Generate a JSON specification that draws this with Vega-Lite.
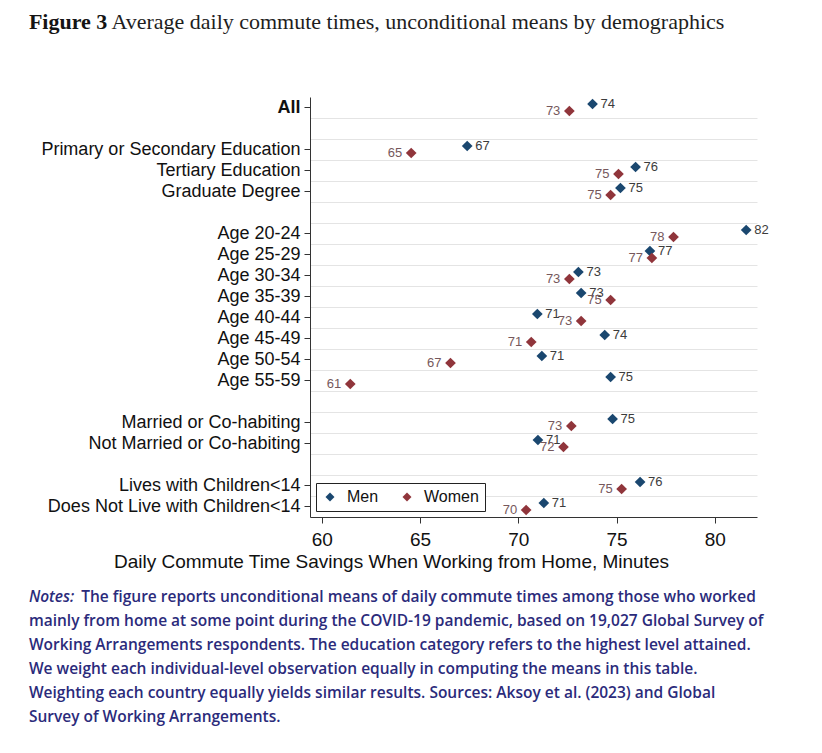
{
  "$schema": "https://vega.github.io/schema/vega-lite/v6.json",
  "background": "white",
  "padding": {"left": 28, "top": 11, "right": 10, "bottom": 5},
  "config": {"view": {"stroke": null}, "font": "Liberation Sans"},
  "title": {
    "text": "Figure 3",
    "subtitle": "\u200b\u00a0\u00a0\u00a0\u00a0\u00a0\u00a0\u00a0\u00a0\u00a0\u00a0\u00a0\u00a0\u00a0\u00a0\u00a0Average daily commute times, unconditional means by demographics",
    "anchor": "start",
    "frame": "bounds",
    "font": "Liberation Serif",
    "fontSize": 22,
    "fontWeight": "bold",
    "color": "#141414",
    "subtitleFont": "Liberation Serif",
    "subtitleFontSize": 22,
    "subtitleFontWeight": "normal",
    "subtitleColor": "#1e1e1e",
    "subtitlePadding": -22,
    "offset": 63
  },
  "resolve": {"legend": {"color": "independent"}},
  "vconcat": [
    {
      "width": 447,
      "height": 420,
      "title": {
        "text": "Notes:",
        "subtitle": [
          "\u200b\u00a0\u00a0\u00a0\u00a0\u00a0\u00a0\u00a0\u00a0\u00a0\u00a0\u00a0\u00a0\u00a0The figure reports unconditional means of daily commute times among those who worked",
          "mainly from home at some point during the COVID-19 pandemic, based on 19,027 Global Survey of",
          "Working Arrangements respondents. The education category refers to the highest level attained.",
          "We weight each individual-level observation equally in computing the means in this table.",
          "Weighting each country equally yields similar results. Sources: Aksoy et al. (2023) and Global",
          "Survey of Working Arrangements."
        ],
        "orient": "bottom",
        "anchor": "start",
        "frame": "bounds",
        "dx": -12,
        "offset": 19,
        "font": "Open Sans",
        "fontSize": 15.5,
        "fontStyle": "italic",
        "fontWeight": 600,
        "color": "#2b2b7b",
        "lineHeight": 24,
        "subtitleFont": "Open Sans",
        "subtitleFontSize": 15.5,
        "subtitleFontWeight": 600,
        "subtitleColor": "#2b2b7b",
        "subtitleLineHeight": 24,
        "subtitlePadding": -15.5
      },
      "data": {
        "values": [
          {"group": "All", "sex": "Men", "minutes": 73.78},
          {"group": "All", "sex": "Women", "minutes": 72.6},
          {"group": "Primary or Secondary Education", "sex": "Men", "minutes": 67.4},
          {"group": "Primary or Secondary Education", "sex": "Women", "minutes": 64.55},
          {"group": "Tertiary Education", "sex": "Men", "minutes": 75.97},
          {"group": "Tertiary Education", "sex": "Women", "minutes": 75.1},
          {"group": "Graduate Degree", "sex": "Men", "minutes": 75.2},
          {"group": "Graduate Degree", "sex": "Women", "minutes": 74.7},
          {"group": "Age 20-24", "sex": "Men", "minutes": 81.6},
          {"group": "Age 20-24", "sex": "Women", "minutes": 77.9},
          {"group": "Age 25-29", "sex": "Men", "minutes": 76.7},
          {"group": "Age 25-29", "sex": "Women", "minutes": 76.8},
          {"group": "Age 30-34", "sex": "Men", "minutes": 73.06},
          {"group": "Age 30-34", "sex": "Women", "minutes": 72.6},
          {"group": "Age 35-39", "sex": "Men", "minutes": 73.2},
          {"group": "Age 35-39", "sex": "Women", "minutes": 74.7},
          {"group": "Age 40-44", "sex": "Men", "minutes": 70.97},
          {"group": "Age 40-44", "sex": "Women", "minutes": 73.2},
          {"group": "Age 45-49", "sex": "Men", "minutes": 74.4},
          {"group": "Age 45-49", "sex": "Women", "minutes": 70.66},
          {"group": "Age 50-54", "sex": "Men", "minutes": 71.2},
          {"group": "Age 50-54", "sex": "Women", "minutes": 66.55},
          {"group": "Age 55-59", "sex": "Men", "minutes": 74.7},
          {"group": "Age 55-59", "sex": "Women", "minutes": 61.45},
          {"group": "Married or Co-habiting", "sex": "Men", "minutes": 74.8},
          {"group": "Married or Co-habiting", "sex": "Women", "minutes": 72.7},
          {"group": "Not Married or Co-habiting", "sex": "Men", "minutes": 71.0},
          {"group": "Not Married or Co-habiting", "sex": "Women", "minutes": 72.3},
          {"group": "Lives with Children<14", "sex": "Men", "minutes": 76.2},
          {"group": "Lives with Children<14", "sex": "Women", "minutes": 75.26},
          {"group": "Does Not Live with Children<14", "sex": "Men", "minutes": 71.3},
          {"group": "Does Not Live with Children<14", "sex": "Women", "minutes": 70.4}
        ]
      },
      "encoding": {
        "x": {
          "field": "minutes",
          "type": "quantitative",
          "scale": {"domain": [59.4, 82.15], "nice": false, "zero": false},
          "axis": {
            "values": [60, 65, 70, 75, 80],
            "grid": false,
            "title": "Daily Commute Time Savings When Working from Home, Minutes",
            "titleX": 81,
            "titleAlign": "center",
            "titleFontSize": 19,
            "titleFontWeight": "normal",
            "titleColor": "#111",
            "titlePadding": 3,
            "labelFontSize": 19,
            "labelColor": "#111",
            "labelPadding": 7,
            "tickSize": 6,
            "tickColor": "#333",
            "domainColor": "#333"
          }
        }
      },
      "layer": [
        {
          "transform": [{"filter": "datum.sex === 'Men'"}],
          "mark": {"type": "point", "shape": "diamond", "filled": true, "size": 115, "opacity": 1, "yOffset": -3.5},
          "encoding": {
            "y": {
              "field": "group",
              "type": "nominal",
              "scale": {"type": "band", "paddingInner": 0, "paddingOuter": 0, "domain": ["All", "gap1", "Primary or Secondary Education", "Tertiary Education", "Graduate Degree", "gap2", "Age 20-24", "Age 25-29", "Age 30-34", "Age 35-39", "Age 40-44", "Age 45-49", "Age 50-54", "Age 55-59", "gap3", "Married or Co-habiting", "Not Married or Co-habiting", "gap4", "Lives with Children<14", "Does Not Live with Children<14"]},
              "axis": {
                "orient": "left",
                "title": null,
                "grid": false,
                "values": ["All", "Primary or Secondary Education", "Tertiary Education", "Graduate Degree", "Age 20-24", "Age 25-29", "Age 30-34", "Age 35-39", "Age 40-44", "Age 45-49", "Age 50-54", "Age 55-59", "Married or Co-habiting", "Not Married or Co-habiting", "Lives with Children<14", "Does Not Live with Children<14"],
                "bandPosition": 0.5,
                "labelFontSize": 18,
                "labelColor": "#111",
                "labelFontWeight": {"condition": {"test": "datum.value === 'All'", "value": "bold"}, "value": "normal"},
                "labelPadding": 4,
                "labelLimit": 400,
                "tickSize": 6,
                "tickColor": "#333",
                "domainColor": "#333"
              }
            },
            "color": {
              "field": "sex",
              "type": "nominal",
              "scale": {"domain": ["Men", "Women"], "range": ["#1a476f", "#90353b"]},
              "legend": {
                "title": null,
                "orient": "bottom-left",
                "direction": "horizontal",
                "offset": 6,
                "strokeColor": "#222",
                "fillColor": "white",
                "padding": 6,
                "symbolType": "diamond",
                "symbolSize": 80,
                "symbolStrokeWidth": 0,
                "labelFontSize": 16,
                "labelColor": "#111",
                "labelOffset": 9,
                "columnPadding": 20
              }
            }
          }
        },
        {
          "transform": [{"filter": "datum.sex === 'Women'"}],
          "mark": {"type": "point", "shape": "diamond", "filled": true, "size": 115, "opacity": 1, "yOffset": 3.5},
          "encoding": {
            "y": {
              "field": "group",
              "type": "nominal",
              "scale": {"type": "band", "paddingInner": 0, "paddingOuter": 0, "domain": ["All", "gap1", "Primary or Secondary Education", "Tertiary Education", "Graduate Degree", "gap2", "Age 20-24", "Age 25-29", "Age 30-34", "Age 35-39", "Age 40-44", "Age 45-49", "Age 50-54", "Age 55-59", "gap3", "Married or Co-habiting", "Not Married or Co-habiting", "gap4", "Lives with Children<14", "Does Not Live with Children<14"]},
              "axis": {
                "orient": "left",
                "title": null,
                "grid": true,
                "gridColor": "#e4e4e4",
                "gridWidth": 1,
                "labels": false,
                "ticks": false,
                "domain": false,
                "bandPosition": 0,
                "values": ["gap1", "Primary or Secondary Education", "Tertiary Education", "Graduate Degree", "gap2", "Age 20-24", "Age 25-29", "Age 30-34", "Age 35-39", "Age 40-44", "Age 45-49", "Age 50-54", "Age 55-59", "gap3", "Married or Co-habiting", "Not Married or Co-habiting", "gap4", "Lives with Children<14", "Does Not Live with Children<14"]
              }
            },
            "color": {
              "field": "sex",
              "type": "nominal",
              "scale": {"domain": ["Men", "Women"], "range": ["#1a476f", "#90353b"]}
            }
          }
        },
        {
          "transform": [{"filter": "datum.sex === 'Men'"}],
          "mark": {"type": "text", "align": "left", "baseline": "middle", "dx": 8, "yOffset": -3.5, "fontSize": 13, "color": "#3c3c3c"},
          "encoding": {
            "y": {"field": "group", "type": "nominal", "axis": null},
            "text": {"field": "minutes", "type": "quantitative", "format": ".0f"}
          }
        },
        {
          "transform": [{"filter": "datum.sex === 'Women'"}],
          "mark": {"type": "text", "align": "right", "baseline": "middle", "dx": -9, "yOffset": 3.5, "fontSize": 13, "color": "#76585c"},
          "encoding": {
            "y": {"field": "group", "type": "nominal", "axis": null},
            "text": {"field": "minutes", "type": "quantitative", "format": ".0f"}
          }
        }
      ],
      "resolve": {"axis": {"y": "independent"}}
    }
  ]
}
